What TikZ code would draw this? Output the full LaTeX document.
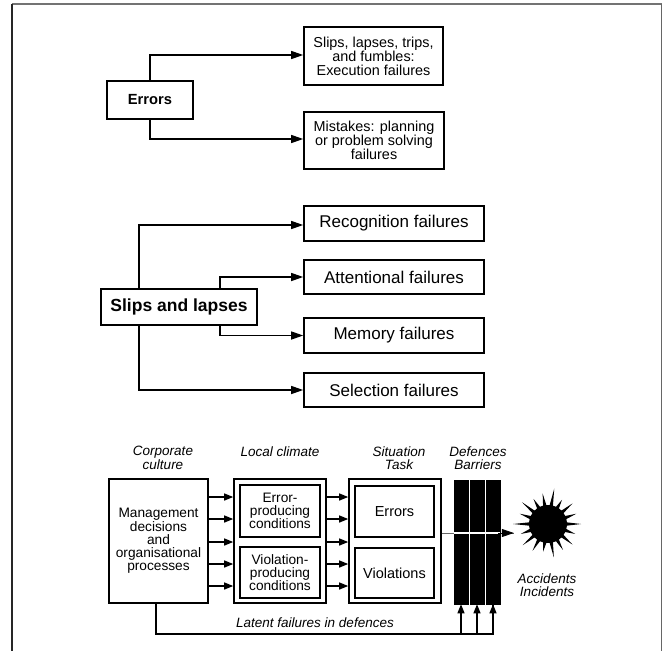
\documentclass[tikz,border=0pt]{standalone}
\usepackage{fontspec}
\setmainfont{Liberation Sans}
\usetikzlibrary{arrows.meta}
\begin{document}
\begin{tikzpicture}[x=1pt,y=-1pt,
  box/.style={draw, line width=1.6pt, inner sep=0pt, align=center, anchor=center},
  inbox/.style={draw, line width=1.2pt, inner sep=0pt, align=center, anchor=center},
  arr/.style={line width=1.3pt, -{Triangle[length=12pt,width=8pt]}},
  sarr/.style={line width=1.3pt, -{Triangle[length=9pt,width=7pt]}},
  topf/.style={font=\fontsize{14.4}{14}\selectfont},
  midf/.style={font=\fontsize{17}{20}\selectfont},
  botf/.style={font=\fontsize{13.7}{13.3}\selectfont},
  hdr/.style={align=center, font=\fontsize{13.5}{12.5}\selectfont\itshape},
  bar/.style={fill=black, draw=black, line width=0.5pt, minimum width=14pt, minimum height=124pt, inner sep=0pt}]
\useasboundingbox (0,0) rectangle (666,651);
% frame
\draw[line width=1.8pt, black!55] (12,4) -- (662,4);
\draw[line width=1.8pt, black!60] (661.5,4) -- (661.5,651);
\draw[line width=1.6pt, black!85] (12,4) -- (12,651);

% ---------- top section ----------
\node[box, font=\fontsize{14.7}{16}\selectfont\bfseries, minimum width=86pt, minimum height=38pt] (err) at (150,100) {Errors};
\node[box, topf, minimum width=139pt, minimum height=58pt] (slips) at (373.5,56) {Slips, lapses, trips,\\and fumbles:\\Execution failures};
\node[box, topf, minimum width=140pt, minimum height=57pt] (mist) at (374,140.5) {Mistakes: planning\\or problem solving\\failures};
\draw[arr] (err.north) |- ([yshift=1pt]slips.west);
\draw[arr] (err.south) |- ([yshift=1.5pt]mist.west);

% ---------- middle section ----------
\node[box, font=\fontsize{17.5}{20}\selectfont\bfseries, minimum width=156pt, minimum height=36pt] (sl) at (179,307) {Slips and lapses};
\node[box, midf, minimum width=180pt, minimum height=35pt] (rec) at (394,223.5) {Recognition failures};
\node[box, midf, minimum width=180pt, minimum height=34pt] (att) at (394,277) {Attentional failures};
\node[box, midf, minimum width=180pt, minimum height=35pt] (mem) at (394,335.5) {Memory failures};
\node[box, midf, minimum width=180pt, minimum height=34pt] (sel) at (394,390) {Selection failures};
\coordinate (o1) at (139,0);
\coordinate (o2) at (220,0);
\draw[arr] (sl.north -| o1) |- ([yshift=-1.5pt]rec.west);
\draw[arr] (sl.north -| o2) |- (att.west);
\draw[arr] (sl.south -| o2) |- (mem.west);
\draw[arr] (sl.south -| o1) |- (sel.west);

% ---------- bottom section ----------
\node[hdr] (h1) at (163,458) {Corporate\\culture};
\node[hdr] (h2) at (280,452) {Local climate};
\node[hdr] (h3) at (399,458) {Situation\\Task};
\node[hdr] (h4) at (478,458) {Defences\\Barriers};

\node[box, botf, minimum width=99pt, minimum height=124pt] (mg) at (158.5,541) {Management\\decisions\\and\\organisational\\processes};
\node[box, minimum width=92pt, minimum height=124pt] (lc) at (280,541) {};
\node[inbox, botf, minimum width=80pt, minimum height=52pt] (epc) at (280,511) {Error-\\producing\\conditions};
\node[inbox, botf, minimum width=80pt, minimum height=51pt] (vpc) at (280,572.5) {Violation-\\producing\\conditions};
\node[box, minimum width=92pt, minimum height=124pt] (st) at (395,541) {};
\node[inbox, font=\fontsize{14.5}{16}\selectfont, minimum width=79pt, minimum height=51pt] (er2) at (394.5,511.5) {Errors};
\node[inbox, font=\fontsize{14.5}{16}\selectfont, minimum width=79pt, minimum height=50pt] (vi2) at (394.5,573) {Violations};

\foreach \yy in {497,519,542,564,586}{
  \draw[sarr] (mg.east |- 0,\yy) -- (lc.west |- 0,\yy);
  \draw[sarr] (lc.east |- 0,\yy) -- (st.west |- 0,\yy);
}

% barriers
\node[bar] (b1) at (461,542) {};
\node[bar] (b2) at (477,542) {};
\node[bar] (b3) at (493,542) {};

% star
\node[circle, minimum size=68pt, inner sep=0pt] (star) at (548,524) {};
\fill[shift={(star.center)}]
 (-5:19) -- (0:33) -- (5:19) -- (15:19) -- (20:29) -- (25:19) -- (35:19) -- (40:32) -- (45:19)
 -- (55:19) -- (60:30) -- (65:19) -- (75:19) -- (80:34) -- (85:19) -- (95:19) -- (100:28) -- (105:19)
 -- (115:19) -- (120:31) -- (125:19) -- (135:19) -- (140:33) -- (145:19) -- (155:19) -- (160:29) -- (165:19)
 -- (175:19) -- (180:35) -- (185:19) -- (195:19) -- (200:30) -- (205:19) -- (215:19) -- (220:34) -- (225:19)
 -- (235:19) -- (240:29) -- (245:19) -- (255:19) -- (260:31) -- (265:19) -- (275:19) -- (280:36) -- (285:19)
 -- (295:19) -- (300:28) -- (305:19) -- (315:19) -- (320:32) -- (325:19) -- (335:19) -- (340:30) -- (345:19) -- cycle;

% main trajectory line
\draw[line width=0.8pt, black!60] (st.east |- 0,533) -- (b1.west |- 0,533);
\draw[line width=1.6pt, white] (b1.west |- 0,533) -- (b3.east |- 0,533);
\draw[line width=0.8pt, black!60] (b3.east |- 0,533) -- (star.west |- 0,533);
\draw[arr, line width=0.8pt] ([xshift=-2pt]b3.east |- 0,533) -- (star.west |- 0,533);

\node[hdr] (acc) at (547,585) {Accidents\\Incidents};

% latent failures
\coordinate (lat) at (0,634);
\draw[line width=1.1pt] (mg.south -| 156,0) |- (b3.south |- lat) -- (b3.south);
\draw[sarr, line width=1.1pt] (b1.south |- lat) -- (b1.south);
\draw[sarr, line width=1.1pt] (b2.south |- lat) -- (b2.south);
\draw[sarr, line width=1.1pt] ([yshift=-0.5pt]b3.south |- lat) -- (b3.south);
\node[hdr] (latl) at (315,623) {Latent failures in defences};
\end{tikzpicture}
\end{document}
